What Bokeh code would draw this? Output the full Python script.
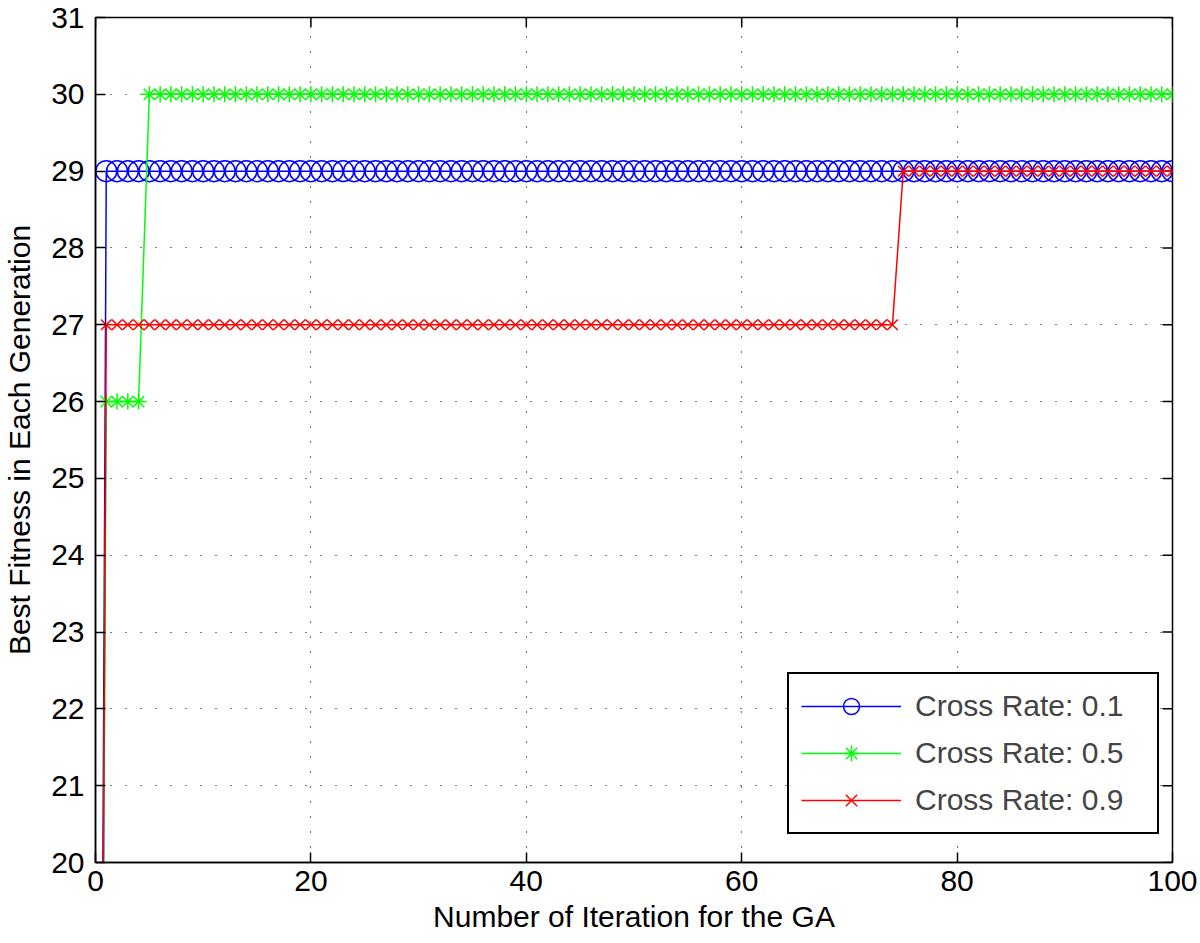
from bokeh.plotting import figure
from bokeh.models import Range1d, FixedTicker, Legend, LegendItem
from bokeh.embed import file_html
from bokeh.resources import INLINE

# ---- data ----
iterations = list(range(0, 101))
rate_01 = [0] + [29] * 100
rate_05 = [0] + [26] * 4 + [30] * 96
rate_09 = [0] + [27] * 74 + [29] * 26
series_labels = ["Cross Rate: 0.1", "Cross Rate: 0.5", "Cross Rate: 0.9"]
x_ticks = [0, 20, 40, 60, 80, 100]
y_ticks = list(range(20, 32))

FONT = "Liberation Sans"
FS = "30px"
X0, X1, Y0, Y1 = 0, 100, 20, 31
W, H = 1200, 943
BL, BR, BT, BB = 93, 28, 17, 81
TICK = 10  # px

p = figure(width=W, height=H, output_backend="svg", toolbar_location=None,
           x_range=Range1d(X0, X1), y_range=Range1d(Y0, Y1),
           min_border_left=BL, min_border_right=BR, min_border_top=BT, min_border_bottom=BB)

p.outline_line_color = "black"
p.outline_line_width = 1.5
p.background_fill_color = "white"

for ax in (p.xaxis[0], p.yaxis[0]):
    ax.major_tick_in = TICK
    ax.major_tick_out = 0
    ax.minor_tick_line_color = None
    ax.axis_line_color = "black"
    ax.axis_line_width = 1.5
    ax.major_tick_line_width = 1.5
    ax.major_label_text_font = FONT
    ax.major_label_text_font_size = FS
    ax.major_label_text_color = "black"
    ax.axis_label_text_font = FONT
    ax.axis_label_text_font_size = FS
    ax.axis_label_text_font_style = "normal"
    ax.axis_label_text_color = "black"

p.xaxis[0].ticker = FixedTicker(ticks=x_ticks)
p.yaxis[0].ticker = FixedTicker(ticks=y_ticks)
p.xaxis[0].axis_label = "Number of Iteration for the GA"
p.yaxis[0].axis_label = "Best Fitness in Each Generation"
p.xaxis[0].major_label_standoff = 8
p.xaxis[0].axis_label_standoff = 6
p.yaxis[0].major_label_standoff = 11
p.yaxis[0].axis_label_standoff = 12

# mirrored inward ticks on the top and right edges of the box
frame_w = W - BL - BR
frame_h = H - BT - BB
dy = (Y1 - Y0) * TICK / frame_h
dx = (X1 - X0) * TICK / frame_w
p.segment(x0=x_ticks, y0=[Y1] * len(x_ticks), x1=x_ticks, y1=[Y1 - dy] * len(x_ticks),
          line_color="black", line_width=1.5)
p.segment(x0=[X1] * len(y_ticks), y0=y_ticks, x1=[X1 - dx] * len(y_ticks), y1=y_ticks,
          line_color="black", line_width=1.5)

for g in (p.xgrid[0], p.ygrid[0]):
    g.grid_line_color = "black"
    g.grid_line_dash = "1 14"
    g.grid_line_width = 1.2

p.xgrid[0].ticker = FixedTicker(ticks=x_ticks)
p.ygrid[0].ticker = FixedTicker(ticks=y_ticks)

l1 = p.line(iterations, rate_01, line_color="#0000ff", line_width=1.5)
s1 = p.scatter(iterations, rate_01, marker="circle", size=21, fill_color=None,
               line_color="#0000ff", line_width=1.5)
l2 = p.line(iterations, rate_05, line_color="#00ff00", line_width=1.5)
s2 = p.scatter(iterations, rate_05, marker="asterisk", size=16,
               line_color="#00ff00", line_width=1.5)
l3 = p.line(iterations, rate_09, line_color="#ff0000", line_width=1.5)
s3 = p.scatter(iterations, rate_09, marker="x", size=15,
               line_color="#ff0000", line_width=1.5)

items = [LegendItem(label=series_labels[0], renderers=[l1, s1]),
         LegendItem(label=series_labels[1], renderers=[l2, s2]),
         LegendItem(label=series_labels[2], renderers=[l3, s3])]

legend = Legend(items=items, location=(692, 28), margin=0, padding=12,
                glyph_width=100, glyph_height=40, label_height=40, spacing=7,
                label_standoff=14, label_width=230,
                label_text_font=FONT, label_text_font_size=FS,
                border_line_color="black", border_line_width=2, border_line_alpha=1,
                background_fill_color="white", background_fill_alpha=1)
p.add_layout(legend, "center")

open("out.html", "w").write(file_html(p, INLINE))
